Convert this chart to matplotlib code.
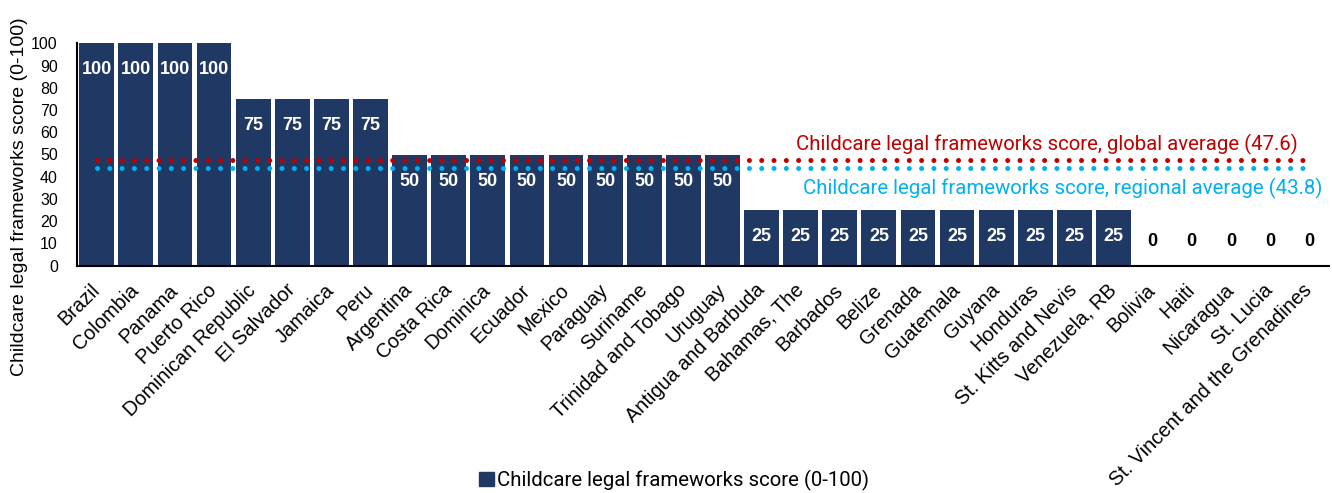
import matplotlib
matplotlib.use("Agg")
import matplotlib.pyplot as plt
from matplotlib.patches import Rectangle

plt.rcParams['font.family'] = ['Liberation Sans', 'DejaVu Sans']

countries = [
    "Brazil", "Colombia", "Panama", "Puerto Rico",
    "Dominican Republic", "El Salvador", "Jamaica", "Peru",
    "Argentina", "Costa Rica", "Dominica", "Ecuador", "Mexico",
    "Paraguay", "Suriname", "Trinidad and Tobago", "Uruguay",
    "Antigua and Barbuda", "Bahamas, The", "Barbados", "Belize",
    "Grenada", "Guatemala", "Guyana", "Honduras", "St. Kitts and Nevis",
    "Venezuela, RB",
    "Bolivia", "Haiti", "Nicaragua", "St. Lucia",
    "St. Vincent and the Grenadines",
]
scores = [100, 100, 100, 100,
          75, 75, 75, 75,
          50, 50, 50, 50, 50, 50, 50, 50, 50,
          25, 25, 25, 25, 25, 25, 25, 25, 25, 25,
          0, 0, 0, 0, 0]
global_avg = 47.6
regional_avg = 43.8

series_label = "Childcare legal frameworks score (0-100)"
global_label = f"Childcare legal frameworks score, global average ({global_avg})"
regional_label = f"Childcare legal frameworks score, regional average ({regional_avg})"

NAVY = "#203864"
RED = "#C00000"
BLUE = "#00B0F0"
NOTE_FONT = ['Roboto', 'DejaVu Sans']

W, H = 1332, 493
fig = plt.figure(figsize=(W / 100, H / 100), dpi=100)
ax = fig.add_axes([77.2 / W, 1 - 265.7 / H, (1328.6 - 77.2) / W, (265.7 - 43.3) / H])

x = list(range(len(countries)))
bars = ax.bar(x, scores, width=0.89, color=NAVY, label=series_label, zorder=2)

# dotted reference lines across all categories
dot_style = dict(linewidth=3.6, linestyle=(0, (0.01, 2.45)), dash_capstyle='round', zorder=3)
ax.plot([x[0], x[-1]], [global_avg, global_avg], color=RED, **dot_style)
ax.plot([x[0], x[-1]], [regional_avg, regional_avg], color=BLUE, **dot_style)

# value labels: inside the bar top, or just above the axis for zero scores
for xi, v in zip(x, scores):
    ypos = v - 12 if v > 0 else 11
    ax.text(xi, ypos, f"{v}", ha='center', va='center',
            color='white' if v > 0 else 'black',
            fontsize=13, fontweight='bold', zorder=4)

ax.text(30.70, 51.7, global_label, ha='right', va='baseline', color=RED,
        fontsize=14.7, family=NOTE_FONT)
ax.text(31.33, 32.25, regional_label, ha='right', va='baseline', color=BLUE,
        fontsize=14.7, family=NOTE_FONT)

ax.set_xlim(-0.5, len(countries) - 0.5)
ax.set_ylim(0, 100)
ax.set_yticks(range(0, 101, 10))
ax.tick_params(axis='y', length=0, pad=14, labelsize=11.5)
ax.tick_params(axis='x', length=0, pad=15.5)
ax.set_xticks(x)
ax.set_xticklabels(countries, rotation=45, ha='right', va='center',
                   rotation_mode='anchor', fontsize=14.3)

for side in ('top', 'right'):
    ax.spines[side].set_visible(False)
ax.spines['left'].set_linewidth(1.5)
ax.spines['bottom'].set_linewidth(1.5)

fig.text(20 / W, 1 - 196.5 / H, series_label, rotation=90, ha='center', va='center',
         fontsize=14)

handle = Rectangle((0, 0), 1, 1, color=NAVY)
fig.legend([handle], [series_label], loc='center', bbox_to_anchor=(674 / W, 1 - 480 / H),
           frameon=False, handlelength=0.7, handleheight=0.7, handletextpad=0.15,
           prop={'family': NOTE_FONT, 'size': 14.7})

fig.savefig("out.png", dpi=100)
